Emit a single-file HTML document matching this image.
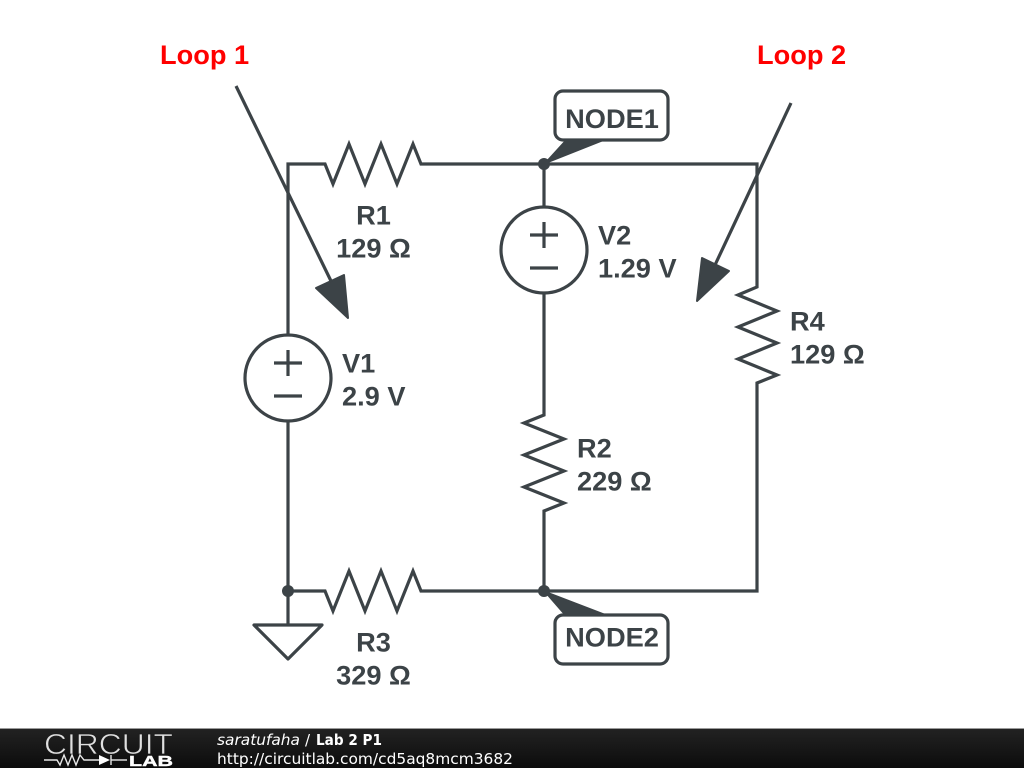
<!DOCTYPE html>
<html>
<head>
<meta charset="utf-8">
<style>
html,body{margin:0;padding:0;background:#fff;width:1024px;height:768px;overflow:hidden}
svg{display:block;position:absolute;left:0;top:0}
.l{font-family:"Liberation Sans",sans-serif;font-weight:bold;font-size:27.2px;fill:#3c4347}
.r{font-family:"Liberation Sans",sans-serif;font-weight:bold;font-size:27.2px;fill:#f00}
.f{font-family:"DejaVu Sans",sans-serif;font-size:15px;fill:#fff}
</style>
</head>
<body>
<svg width="1024" height="768" viewBox="0 0 1024 768" xmlns="http://www.w3.org/2000/svg">
<defs>
<linearGradient id="g" x1="0" y1="0" x2="0" y2="1">
<stop offset="0" stop-color="#222"/>
<stop offset="1" stop-color="#0c0c0c"/>
</linearGradient>
</defs>
<rect width="1024" height="768" fill="#fff"/>
<g fill="none" stroke="#3c4347" stroke-width="3.2" stroke-linejoin="miter">
<polyline points="288,334 288,164 325,164 333,184 349,144 365,184 381,144 397,184 413,144 421,164 757,164 757,287 738,295 777,311 738,327 777,343 738,359 777,375 757,383 757,591 544,591 421,591 413,571 397,611 381,571 365,611 349,571 333,611 325,591 288,591"/>
<line x1="288" y1="421" x2="288" y2="625"/>
<line x1="544" y1="164" x2="544" y2="207"/>
<polyline points="544,293 544,415 524,423 564,439 524,455 564,471 524,487 564,503 544,511 544,591"/>
<circle cx="288" cy="378" r="43"/>
<line x1="274" y1="363" x2="302" y2="363"/><line x1="288" y1="350" x2="288" y2="376"/>
<line x1="274" y1="396" x2="302" y2="396"/>
<circle cx="544" cy="250" r="43"/>
<line x1="530" y1="235" x2="558" y2="235"/><line x1="544" y1="222" x2="544" y2="248"/>
<line x1="530" y1="268" x2="558" y2="268"/>
<polygon points="254,625 322,625 288,659" stroke-linejoin="round"/>
<line x1="236" y1="86" x2="331" y2="281"/>
<line x1="791" y1="103" x2="715" y2="265"/>
<rect x="555" y="91" width="113" height="49" rx="8" ry="8"/>
<rect x="555" y="615" width="113" height="49" rx="8" ry="8"/>
</g>
<g fill="#3c4347" stroke="#3c4347" stroke-width="2" stroke-linejoin="round">
<polygon points="316,288 344,275 348,318"/>
<polygon points="702,258 729,271 697,301"/>
<polygon points="544,164 565,141 602,141" stroke-width="1"/>
<polygon points="544,591 564,614 604,614" stroke-width="1"/>
</g>
<g fill="#3c4347">
<circle cx="544" cy="164" r="6"/>
<circle cx="544" cy="591" r="6"/>
<circle cx="288" cy="591" r="6"/>
</g>
<g>
<text class="l" x="373.5" y="224.5" text-anchor="middle">R1</text>
<text class="l" x="373.5" y="257.5" text-anchor="middle">129 Ω</text>
<text class="l" x="342" y="372.5">V1</text>
<text class="l" x="342" y="405.5">2.9 V</text>
<text class="l" x="598" y="244.5">V2</text>
<text class="l" x="598" y="277.5">1.29 V</text>
<text class="l" x="577" y="457.5">R2</text>
<text class="l" x="577" y="490.5">229 Ω</text>
<text class="l" x="790" y="330.5">R4</text>
<text class="l" x="790" y="363.5">129 Ω</text>
<text class="l" x="373.5" y="651.5" text-anchor="middle">R3</text>
<text class="l" x="373.5" y="684.5" text-anchor="middle">329 Ω</text>
<text class="l" x="612" y="128" text-anchor="middle">NODE1</text>
<text class="l" x="612" y="646.5" text-anchor="middle">NODE2</text>
</g>
<text class="r" x="160" y="64">Loop 1</text>
<text class="r" x="757" y="64">Loop 2</text>
<rect x="0" y="729" width="1024" height="39" fill="url(#g)"/>
<rect x="0" y="728" width="1024" height="1" fill="#9a9a9a"/>
<text x="44" y="754" font-family="'Liberation Sans',sans-serif" font-size="29" fill="#e0e0e0" textLength="129" lengthAdjust="spacingAndGlyphs" stroke="#1c1c1c" stroke-width="0.7">CIRCUIT</text>
<g fill="none" stroke="#e8e8e8" stroke-width="1.4">
<polyline points="44,760 57,760 60,765 64,755 68,765 72,755 76,765 80,755 84,760 100,760"/>
<line x1="111" y1="755" x2="111" y2="765"/>
<line x1="111" y1="760" x2="127" y2="760"/>
</g>
<polygon points="99,755 99,765 110,760" fill="#fff"/>
<text x="129" y="766" font-family="'Liberation Sans',sans-serif" font-weight="bold" font-size="14.5" fill="#fff" textLength="44" lengthAdjust="spacingAndGlyphs" stroke="#fff" stroke-width="0.4">LAB</text>
<text class="f" x="217" y="745" font-style="italic" textLength="83" lengthAdjust="spacingAndGlyphs">saratufaha</text>
<text class="f" x="305" y="745" font-size="14">/</text>
<text class="f" x="316" y="745" textLength="66" lengthAdjust="spacingAndGlyphs" style="font-weight:bold">Lab 2 P1</text>
<text class="f" x="217" y="764" textLength="296" lengthAdjust="spacingAndGlyphs">http://circuitlab.com/cd5aq8mcm3682</text>
</svg>
</body>
</html>
